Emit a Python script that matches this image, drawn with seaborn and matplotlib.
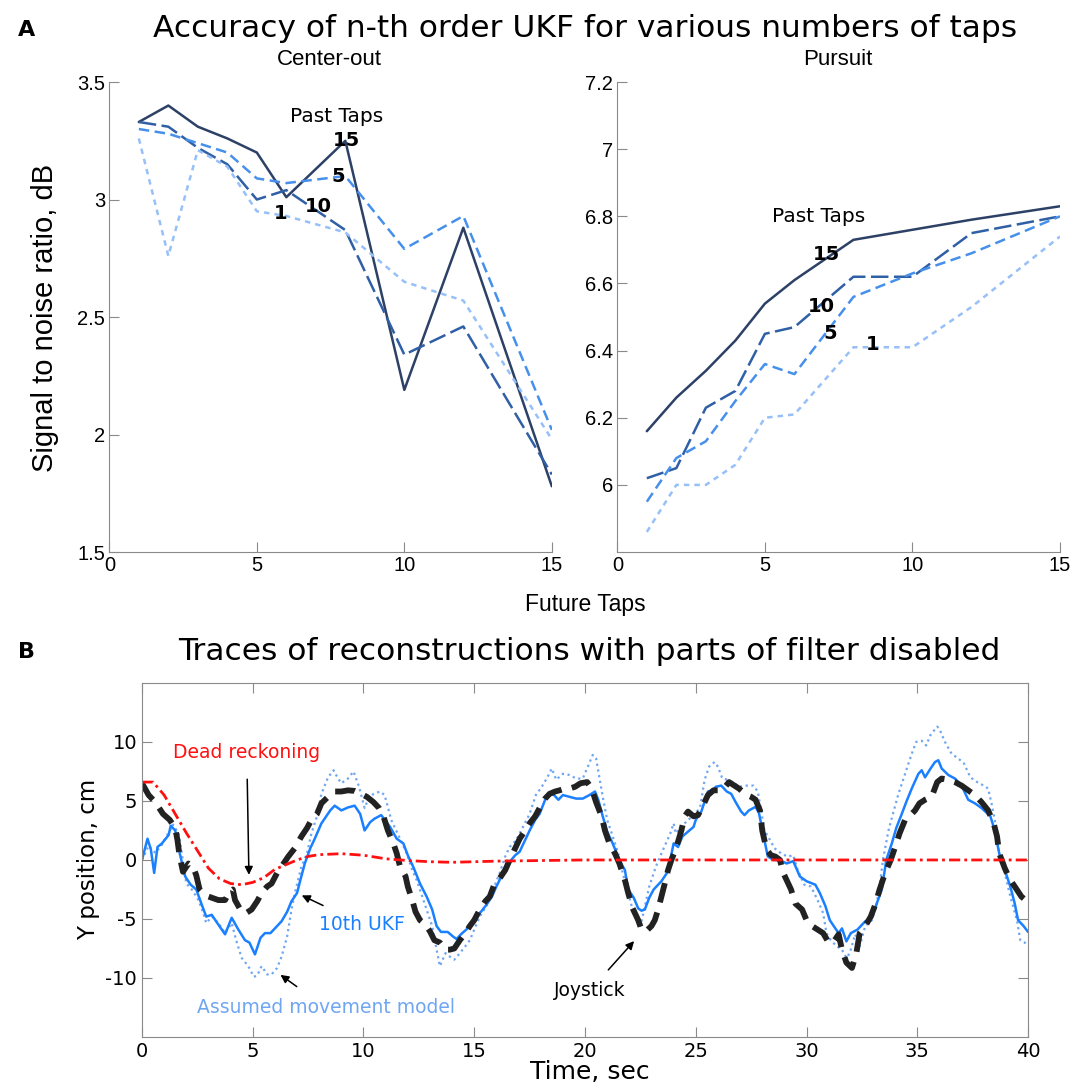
import matplotlib
matplotlib.use("Agg")
import pandas as pd
import matplotlib.pyplot as plt
from matplotlib.ticker import FuncFormatter
import seaborn as sns

sns.set_style("white")
plt.rcParams['font.family'] = ['DejaVu Sans']
plt.rcParams['text.color'] = 'black'
plt.rcParams['xtick.labelcolor'] = 'black'
plt.rcParams['ytick.labelcolor'] = 'black'
plt.rcParams['axes.unicode_minus'] = False

# ---- Panel A data: SNR (dB) vs future taps, one line per number of past taps
future_taps = [1, 2, 3, 4, 5, 6, 8, 10, 12, 15]
past_taps = ["15", "10", "5", "1"]

center_15 = [3.33, 3.40, 3.31, 3.26, 3.20, 3.01, 3.25, 2.19, 2.88, 1.78]
center_10 = [3.33, 3.31, 3.22, 3.15, 3.00, 3.04, 2.87, 2.34, 2.46, 1.83]
center_5 = [3.30, 3.28, 3.24, 3.20, 3.09, 3.07, 3.10, 2.79, 2.93, 2.02]
center_1 = [3.26, 2.76, 3.21, 3.14, 2.95, 2.93, 2.86, 2.65, 2.57, 1.98]

pursuit_15 = [6.16, 6.26, 6.34, 6.43, 6.54, 6.61, 6.73, 6.76, 6.79, 6.83]
pursuit_10 = [6.02, 6.05, 6.23, 6.28, 6.45, 6.47, 6.62, 6.62, 6.75, 6.80]
pursuit_5 = [5.95, 6.08, 6.13, 6.25, 6.36, 6.33, 6.56, 6.63, 6.69, 6.80]
pursuit_1 = [5.86, 6.00, 6.00, 6.06, 6.20, 6.21, 6.41, 6.41, 6.53, 6.74]

# ---- Panel B data: traces (time in s, Y position in cm)
ukf_t = [0.0, 0.25, 0.4, 0.55, 0.7, 0.9, 1.2, 1.3, 1.5, 1.7,
         1.95, 2.2, 2.45, 2.7, 2.9, 3.15, 3.4, 3.75, 4.05, 4.35,
         4.65, 4.85, 5.1, 5.35, 5.55, 5.8, 6.0, 6.3, 6.55, 6.75,
         7.0, 7.15, 7.35, 7.6, 7.8, 8.1, 8.5, 8.7, 9.0, 9.3,
         9.6, 9.85, 10.05, 10.3, 10.5, 10.8, 11.2, 11.5, 11.8, 12.0,
         12.25, 12.55, 12.85, 13.1, 13.3, 13.5, 13.8, 14.05, 14.2, 14.4,
         14.7, 15.0, 15.3, 15.55, 15.8, 16.0, 16.3, 16.6, 16.85, 17.05,
         17.3, 17.5, 17.75, 17.95, 18.2, 18.4, 18.6, 18.8, 19.0, 19.3,
         19.6, 19.9, 20.2, 20.45, 20.6, 20.8, 21.0, 21.25, 21.55, 21.8,
         21.95, 22.2, 22.4, 22.55, 22.7, 22.9, 23.1, 23.45, 23.7, 23.85,
         24.0, 24.2, 24.4, 24.65, 24.9, 25.0, 25.25, 25.55, 25.8, 25.9,
         26.15, 26.4, 26.6, 26.8, 27.05, 27.2, 27.4, 27.7, 27.85, 28.1,
         28.25, 28.5, 28.8, 29.1, 29.4, 29.7, 30.0, 30.4, 30.6, 30.85,
         31.05, 31.3, 31.45, 31.6, 31.8, 32.0, 32.3, 32.65, 32.95, 33.15,
         33.4, 33.6, 33.85, 34.05, 34.3, 34.5, 34.75, 35.05, 35.2, 35.35,
         35.6, 35.8, 35.95, 36.1, 36.4, 36.7, 37.0, 37.3, 37.6, 37.9,
         38.3, 38.5, 38.7, 38.95, 39.2, 39.4, 39.55, 39.8, 40.0]
ukf_y = [0.0, 1.8, 0.9, -1.1, 1.1, 1.4, 2.1, 2.9, 2.5, 0.6,
         -1.4, -2.1, -2.5, -3.8, -4.8, -4.65, -5.35, -6.3, -4.9, -5.9,
         -6.8, -7.0, -8.0, -6.6, -6.2, -6.2, -5.8, -5.2, -4.4, -3.5,
         -2.8, -1.7, -0.3, 1.0, 1.8, 3.1, 4.2, 4.6, 4.2, 4.45,
         4.6, 3.9, 2.5, 3.2, 3.5, 3.8, 2.8, 1.8, 1.4, 0.4,
         -0.6, -2.0, -3.1, -4.2, -5.6, -6.1, -6.1, -6.5, -6.7, -6.3,
         -5.8, -4.9, -4.4, -3.8, -3.1, -2.25, -1.1, -0.15, 0.4, 0.7,
         1.7, 2.5, 3.4, 3.9, 5.1, 5.6, 5.5, 5.1, 5.5, 5.35,
         5.2, 5.2, 5.5, 5.8, 5.1, 3.7, 2.4, 1.4, 0.0, -0.85,
         -2.5, -3.2, -4.1, -4.3, -4.2, -3.2, -2.5, -1.8, -1.1, 0.0,
         1.4, 1.1, 2.0, 2.4, 2.8, 3.4, 4.1, 5.8, 5.9, 6.2,
         6.3, 5.8, 5.6, 4.9, 4.1, 3.8, 4.2, 4.5, 4.0, 1.7,
         0.3, 0.0, 0.0, -0.3, -0.1, -1.4, -1.8, -2.1, -2.8, -3.9,
         -5.1, -5.8, -6.2, -5.8, -6.9, -6.2, -5.9, -5.2, -4.9, -3.8,
         -2.5, 0.0, 1.4, 2.7, 3.9, 4.9, 6.05, 7.3, 7.6, 7.0,
         7.75, 8.3, 8.45, 7.75, 7.2, 6.9, 6.3, 5.1, 4.8, 4.4,
         3.7, 2.5, 0.55, -0.85, -2.25, -3.7, -5.1, -5.6, -6.1]

model_t = [0.0, 0.3, 0.6, 0.9, 1.25, 1.4, 1.65, 1.8, 2.0, 2.25,
           2.55, 2.75, 2.9, 3.15, 3.45, 3.75, 4.05, 4.25, 4.5, 4.8,
           5.05, 5.2, 5.4, 5.65, 5.85, 6.1, 6.3, 6.55, 6.75, 6.9,
           7.2, 7.45, 7.65, 7.9, 8.1, 8.4, 8.65, 8.85, 9.0, 9.3,
           9.55, 9.8, 10.05, 10.2, 10.45, 10.75, 10.95, 11.1, 11.25, 11.4,
           11.65, 11.95, 12.2, 12.4, 12.6, 12.85, 13.1, 13.3, 13.45, 13.7,
           13.9, 14.1, 14.35, 14.6, 14.8, 15.0, 15.25, 15.55, 15.85, 16.15,
           16.4, 16.6, 16.9, 17.2, 17.5, 17.8, 18.0, 18.3, 18.5, 18.7,
           19.0, 19.3, 19.6, 19.9, 20.15, 20.35, 20.5, 20.65, 20.8, 21.0,
           21.25, 21.5, 21.7, 21.9, 22.15, 22.35, 22.5, 22.6, 22.9, 23.2,
           23.45, 23.65, 23.85, 24.0, 24.1, 24.35, 24.65, 24.95, 25.2, 25.4,
           25.6, 25.85, 26.0, 26.2, 26.45, 26.75, 26.95, 27.3, 27.6, 27.8,
           27.95, 28.1, 28.35, 28.55, 28.85, 29.15, 29.4, 29.6, 29.9, 30.2,
           30.5, 30.75, 30.9, 31.1, 31.35, 31.6, 31.8, 31.95, 32.2, 32.4,
           32.65, 32.95, 33.15, 33.3, 33.45, 33.7, 33.9, 34.15, 34.45, 34.75,
           34.95, 35.2, 35.4, 35.6, 35.9, 36.0, 36.25, 36.55, 36.85, 37.1,
           37.4, 37.7, 38.0, 38.2, 38.35, 38.5, 38.7, 38.95, 39.2, 39.5,
           39.65, 39.85, 40.0]
model_y = [0.0, 1.2, 0.6, 1.3, 2.5, 3.0, 2.25, 0.56, -2.0, -2.5,
           -3.4, -4.4, -5.35, -4.8, -5.35, -6.2, -5.35, -6.8, -8.3, -9.0,
           -9.9, -9.8, -9.0, -9.7, -9.7, -9.15, -8.2, -6.5, -4.2, -2.8,
           -0.56, 0.56, 2.25, 3.7, 5.6, 7.0, 7.6, 6.9, 6.5, 6.9,
           7.5, 6.2, 4.4, 5.1, 5.6, 5.8, 5.5, 4.5, 3.4, 2.8,
           1.8, 0.56, -0.85, -1.7, -2.8, -4.2, -5.6, -7.6, -9.0, -7.9,
           -8.2, -8.45, -7.9, -7.3, -6.8, -5.9, -4.8, -3.9, -2.5, -1.1,
           0.3, 1.1, 1.7, 2.8, 3.9, 5.6, 6.05, 7.0, 7.75, 6.8,
           7.3, 7.2, 6.9, 6.9, 8.0, 8.9, 8.6, 7.0, 5.35, 3.4,
           2.0, 0.56, -1.1, -2.5, -4.2, -4.9, -5.6, -4.8, -2.25, -0.56,
           0.56, 1.4, 2.25, 3.1, 2.25, 2.8, 3.4, 3.8, 4.5, 6.8,
           7.9, 8.3, 7.9, 6.9, 6.8, 6.5, 6.2, 6.3, 6.3, 5.8,
           4.2, 2.5, 1.7, 1.0, 0.56, 0.28, 0.4, -0.85, -2.1, -2.25,
           -3.4, -4.5, -6.2, -6.8, -7.3, -7.6, -8.3, -7.9, -6.3, -7.3,
           -5.6, -5.1, -3.9, -2.25, 0.0, 2.5, 3.9, 5.6, 7.3, 9.0,
           10.0, 10.1, 9.7, 10.6, 11.3, 11.1, 10.0, 9.0, 8.6, 8.2,
           7.0, 6.6, 6.3, 6.05, 4.8, 3.4, 0.56, -1.1, -3.1, -5.1,
           -6.8, -7.0, -7.3]

joy_t = [0.0, 0.3, 0.6, 0.95, 1.25, 1.5, 1.6, 1.7, 1.85, 2.1,
         2.3, 2.45, 2.6, 2.85, 3.15, 3.45, 3.75, 3.95, 4.1, 4.2,
         4.5, 4.7, 4.95, 5.2, 5.4, 5.65, 5.85, 6.1, 6.3, 6.6,
         6.9, 7.2, 7.45, 7.65, 7.9, 8.1, 8.4, 8.7, 9.0, 9.3,
         9.6, 9.9, 10.15, 10.45, 10.7, 10.9, 11.1, 11.35, 11.5, 11.65,
         11.9, 12.0, 12.2, 12.35, 12.55, 12.8, 13.0, 13.2, 13.45, 13.7,
         13.9, 14.1, 14.35, 14.6, 14.8, 15.0, 15.25, 15.5, 15.7, 15.9,
         16.15, 16.4, 16.6, 16.85, 17.05, 17.3, 17.5, 17.75, 17.95, 18.2,
         18.4, 18.65, 18.85, 19.1, 19.3, 19.55, 19.8, 20.1, 20.3, 20.5,
         20.75, 20.9, 21.1, 21.35, 21.55, 21.8, 21.95, 22.15, 22.4, 22.55,
         22.75, 23.0, 23.15, 23.3, 23.45, 23.6, 23.75, 23.9, 24.05, 24.2,
         24.35, 24.5, 24.65, 24.9, 25.1, 25.3, 25.55, 25.8, 26.0, 26.2,
         26.5, 26.75, 26.95, 27.3, 27.5, 27.7, 27.9, 28.0, 28.2, 28.4,
         28.6, 28.8, 28.95, 29.1, 29.3, 29.5, 29.8, 30.0, 30.25, 30.5,
         30.75, 31.0, 31.2, 31.45, 31.6, 31.8, 32.05, 32.25, 32.4, 32.65,
         32.9, 33.1, 33.3, 33.55, 33.8, 34.0, 34.2, 34.45, 34.65, 34.9,
         35.1, 35.35, 35.65, 35.9, 36.1, 36.4, 36.7, 37.0, 37.3, 37.6,
         37.9, 38.2, 38.45, 38.6, 38.7, 38.95, 39.2, 39.4, 39.7, 39.95]
joy_y = [6.5, 5.5, 4.9, 3.9, 3.4, 2.7, 1.7, 0.3, -1.0, -0.3,
         -0.56, -1.3, -2.5, -3.0, -3.2, -3.4, -3.4, -2.7, -2.5, -3.4,
         -4.4, -4.5, -4.2, -3.5, -2.8, -2.25, -2.0, -1.1, -0.56, 0.28,
         1.0, 2.0, 2.7, 3.4, 3.9, 4.8, 5.35, 5.8, 5.8, 5.9,
         5.85, 5.6, 5.35, 4.9, 4.4, 3.7, 2.5, 1.4, 0.56, -0.56,
         -1.4, -2.25, -3.4, -4.4, -5.1, -5.5, -6.05, -6.8, -7.0, -7.6,
         -7.6, -7.5, -6.8, -6.2, -5.6, -5.1, -4.2, -3.5, -3.1, -2.1,
         -1.55, -0.85, 0.0, 1.0, 1.8, 2.5, 3.1, 3.7, 4.4, 5.2,
         5.6, 5.8, 5.9, 6.05, 6.05, 6.2, 6.5, 6.6, 6.05, 4.9,
         3.7, 2.5, 1.4, 0.56, -0.28, -1.7, -2.8, -4.1, -5.1, -5.9,
         -6.05, -5.6, -5.1, -4.2, -3.1, -2.0, -0.85, 0.0, 0.7, 1.55,
         2.5, 3.7, 4.1, 3.7, 3.8, 4.5, 5.5, 5.9, 5.9, 5.9,
         6.6, 6.3, 6.05, 5.5, 5.35, 5.1, 4.2, 2.5, 0.85, 0.4,
         0.28, 0.0, -1.1, -1.7, -2.5, -3.7, -4.2, -5.1, -5.6, -5.9,
         -6.2, -7.0, -7.0, -6.3, -7.6, -8.7, -9.15, -7.9, -6.2, -5.6,
         -4.8, -3.8, -2.5, -1.1, 0.0, 1.1, 2.25, 3.4, 3.7, 4.2,
         4.8, 5.1, 5.35, 6.6, 6.9, 6.8, 6.6, 6.3, 5.9, 5.5,
         4.9, 4.2, 3.1, 2.0, 0.56, -0.7, -1.7, -2.25, -3.1, -3.5]

dead_t = [0, 0.5, 1, 1.5, 2, 2.5, 3, 3.5, 4, 4.5, 5, 5.5, 6, 6.5, 7, 7.5,
          8, 9, 10, 11, 12, 13, 14, 15, 16, 18, 20, 25, 30, 35, 40]
dead_y = [6.6, 6.6, 5.5, 3.9, 2.3, 0.8, -0.7, -1.6, -2.0, -2.1, -1.9, -1.5,
          -0.8, -0.4, 0.0, 0.3, 0.45, 0.53, 0.4, 0.1, -0.05, -0.15, -0.2,
          -0.15, -0.1, -0.05, 0.0, 0.0, 0.0, 0.0, 0.0]


def long_form(series):
    rows = []
    for past, vals in zip(past_taps, series):
        for f, v in zip(future_taps, vals):
            rows.append({"future": f, "snr": v, "past": past})
    return pd.DataFrame(rows)


center_df = long_form([center_15, center_10, center_5, center_1])
pursuit_df = long_form([pursuit_15, pursuit_10, pursuit_5, pursuit_1])

tap_colors = {"15": "#2d4166", "10": "#2f5fa5", "5": "#4690ec", "1": "#97c0f8"}
tap_dashes = {"15": "", "10": (7, 2.2), "5": (4.2, 2.2), "1": (2.2, 2.0)}
spine_grey = "#8a8a8a"

fig = plt.figure(figsize=(10.74, 10.88), dpi=100)
ax1 = fig.add_axes([0.1018, 0.4926, 0.412, 0.432])
ax2 = fig.add_axes([0.5748, 0.4926, 0.4122, 0.432])
ax3 = fig.add_axes([0.1322, 0.0469, 0.825, 0.3254])

for ax, df in ((ax1, center_df), (ax2, pursuit_df)):
    sns.lineplot(data=df, x="future", y="snr", hue="past", style="past",
                 palette=tap_colors, dashes=tap_dashes, linewidth=1.8,
                 legend=False, ax=ax)
    sns.despine(ax=ax)
    for s in ("left", "bottom"):
        ax.spines[s].set_color(spine_grey)
    ax.tick_params(direction="in", length=7, color=spine_grey, labelsize=14.5,
                   left=True, bottom=True, pad=3)
    ax.set_xlim(0, 15)
    ax.set_xticks([0, 5, 10, 15])
    ax.yaxis.set_major_formatter(FuncFormatter(lambda v, p: "%g" % round(v, 2)))
    ax.set_xlabel("")
    ax.set_ylabel("")

ax1.set_ylim(1.5, 3.5)
ax1.set_yticks([1.5, 2, 2.5, 3, 3.5])
ax2.set_ylim(5.8, 7.2)
ax2.set_yticks([6, 6.2, 6.4, 6.6, 6.8, 7, 7.2])

for ax in (ax1, ax2):
    for lbl in ax.get_xticklabels() + ax.get_yticklabels():
        lbl.set_fontfamily("Liberation Sans")

# tap number labels
lab_kw = dict(ha="center", va="center", fontsize=14)
ax1.text(7.7, 3.355, "Past Taps", ha="center", va="center", fontsize=14.5)
ax1.text(8.05, 3.25, "15", fontweight="bold", **lab_kw)
ax1.text(7.76, 3.10, "5", fontweight="bold", **lab_kw)
ax1.text(7.08, 2.97, "10", fontweight="bold", **lab_kw)
ax1.text(5.79, 2.94, "1", fontweight="bold", **lab_kw)

ax2.text(6.81, 6.80, "Past Taps", ha="center", va="center", fontsize=14.5)
ax2.text(7.07, 6.686, "15", fontweight="bold", **lab_kw)
ax2.text(6.9, 6.53, "10", fontweight="bold", **lab_kw)
ax2.text(7.2, 6.45, "5", fontweight="bold", **lab_kw)
ax2.text(8.66, 6.419, "1", fontweight="bold", **lab_kw)

fig.text(0.017, 0.972, "A", fontsize=16, fontweight="bold", va="center")
fig.text(0.545, 0.974, "Accuracy of n-th order UKF for various numbers of taps",
         ha="center", va="center", fontsize=22.5)
fig.text(0.307, 0.945, "Center-out", ha="center", va="center", fontsize=16,
         family="Liberation Sans")
fig.text(0.780, 0.945, "Pursuit", ha="center", va="center", fontsize=16,
         family="Liberation Sans")
fig.text(0.042, 0.708, "Signal to noise ratio, dB", rotation=90, ha="center",
         va="center", fontsize=21, family="Liberation Sans")
fig.text(0.545, 0.444, "Future Taps", ha="center", va="center", fontsize=16.5,
         family="Liberation Sans")

# ---- Panel B
sns.lineplot(x=model_t, y=model_y, ax=ax3, color="#6fa6f2", linewidth=1.6,
             linestyle=(0, (1, 1.6)))
sns.lineplot(x=ukf_t, y=ukf_y, ax=ax3, color="#1a80ff", linewidth=1.8)
sns.lineplot(x=joy_t, y=joy_y, ax=ax3, color="#222222", linewidth=4.2,
             linestyle=(0, (3.4, 1.8)))
sns.lineplot(x=dead_t, y=dead_y, ax=ax3, color="#ff1010", linewidth=2.0,
             linestyle=(0, (4, 1.5, 1, 1.5)))

ax3.set_xlim(0, 40)
ax3.set_ylim(-15, 15)
ax3.set_xticks(range(0, 41, 5))
ax3.set_yticks([-10, -5, 0, 5, 10])
for s in ax3.spines.values():
    s.set_color(spine_grey)
ax3.tick_params(direction="in", length=7, color=spine_grey, labelsize=14,
                top=True, right=True, left=True, bottom=True)
ax3.set_xlabel("")
ax3.set_ylabel("")

arrow = dict(arrowstyle="-|>", color="black", lw=1.1, mutation_scale=12)
ax3.annotate("Dead reckoning", xy=(4.83, -1.5), xytext=(4.73, 9.1),
             ha="center", va="center", fontsize=13.5, color="#ff1010",
             arrowprops=dict(arrow, shrinkA=10))
ax3.annotate("10th UKF", xy=(7.1, -2.9), xytext=(9.95, -5.45),
             ha="center", va="center", fontsize=13.5, color="#1a80ff",
             arrowprops=dict(arrow, shrinkA=10))
ax3.annotate("Assumed movement model", xy=(6.15, -9.6), xytext=(8.3, -12.5),
             ha="center", va="center", fontsize=13.5, color="#6fa6f2",
             arrowprops=dict(arrow, shrinkA=10))
ax3.annotate("Joystick", xy=(22.3, -6.7), xytext=(20.2, -11.1),
             ha="center", va="center", fontsize=13.5, color="black",
             arrowprops=dict(arrow, shrinkA=8))

fig.text(0.017, 0.401, "B", fontsize=16, fontweight="bold", va="center")
fig.text(0.549, 0.401, "Traces of reconstructions with parts of filter disabled",
         ha="center", va="center", fontsize=22.5)
fig.text(0.082, 0.21, "Y position, cm", rotation=90, ha="center", va="center",
         fontsize=16.5)
fig.text(0.549, 0.0147, "Time, sec", ha="center", va="center", fontsize=18)

fig.savefig("out.png", dpi=100)
